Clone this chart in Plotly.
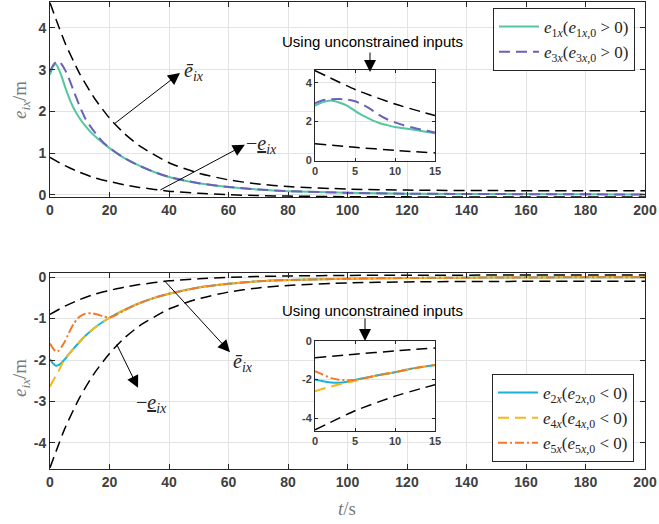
import plotly.graph_objects as go

# ---------------- data ----------------
# bounds (main plots)
t_bound = [0, 5, 10, 15, 20, 25, 30, 40, 50, 60, 70, 80, 100, 120, 150, 200]
top_upper = [4.6, 3.65, 2.9, 2.31, 1.84, 1.47, 1.18, 0.77, 0.52, 0.36, 0.26, 0.2, 0.14, 0.115, 0.103, 0.1]
top_lower = [0.9, 0.7, 0.54, 0.41, 0.32, 0.24, 0.18, 0.09, 0.04, 0.005, -0.016, -0.029, -0.042, -0.047, -0.049, -0.05]
bot_upper = [-0.9, -0.7, -0.54, -0.41, -0.32, -0.24, -0.18, -0.09, -0.04, -0.005, 0.016, 0.029, 0.042, 0.047, 0.049, 0.05]
bot_lower = [-4.6, -3.65, -2.9, -2.31, -1.84, -1.47, -1.18, -0.77, -0.52, -0.36, -0.26, -0.2, -0.14, -0.115, -0.103, -0.1]

# top main curves
t_e1 = [0, 1, 2, 3, 4, 5, 6, 7, 8, 10, 12, 14, 16, 18, 20, 25, 30, 35, 40, 50, 60, 70, 80, 100, 120, 150, 200]
e1x = [2.88, 3.08, 3.13, 3.0, 2.82, 2.6, 2.4, 2.22, 2.07, 1.83, 1.64, 1.48, 1.35, 1.23, 1.12, 0.88, 0.70, 0.55, 0.43, 0.28, 0.19, 0.13, 0.09, 0.05, 0.03, 0.02, 0.01]
t_e3 = [0, 1, 2, 3, 4, 5, 6, 7, 8, 9, 10, 11, 12, 14, 16, 18, 20, 25, 30, 35, 40, 50, 60, 70, 80, 100, 120, 150, 200]
e3x = [2.95, 3.1, 3.18, 3.2, 3.12, 3.0, 2.85, 2.67, 2.48, 2.3, 2.12, 1.96, 1.81, 1.6, 1.41, 1.25, 1.13, 0.88, 0.70, 0.55, 0.43, 0.28, 0.19, 0.13, 0.09, 0.05, 0.03, 0.02, 0.01]

# bottom main curves
t_e2 = [0, 1, 2, 3, 4, 5, 6, 8, 10, 12, 15, 20, 25, 30, 35, 40, 50, 60, 70, 80, 100, 120, 150, 200]
e2x = [-1.98, -2.08, -2.14, -2.12, -2.06, -1.98, -1.89, -1.72, -1.56, -1.41, -1.22, -0.98, -0.79, -0.63, -0.5, -0.4, -0.25, -0.16, -0.1, -0.07, -0.04, -0.02, -0.01, 0.0]
t_e4 = [0, 1, 2, 3, 4, 5, 6, 8, 10, 12, 15, 20, 25, 30, 35, 40, 50, 60, 70, 80, 100, 120, 150, 200]
e4x = [-2.64, -2.5, -2.38, -2.25, -2.1, -1.98, -1.89, -1.72, -1.56, -1.41, -1.22, -0.98, -0.79, -0.63, -0.5, -0.4, -0.25, -0.16, -0.1, -0.07, -0.04, -0.02, -0.01, 0.0]
t_e5 = [0, 1, 2, 3, 4, 5, 6, 7, 8, 9, 10, 12, 14, 16, 18, 20, 22, 25, 30, 35, 40, 50, 60, 70, 80, 100, 120, 150, 200]
e5x = [-1.6, -1.72, -1.8, -1.77, -1.67, -1.55, -1.4, -1.25, -1.12, -1.02, -0.95, -0.88, -0.87, -0.9, -0.95, -0.97, -0.92, -0.8, -0.63, -0.5, -0.4, -0.25, -0.16, -0.1, -0.07, -0.04, -0.02, -0.01, 0.0]

# top inset (unconstrained inputs)
t_in_b = [0, 5, 10, 15]
in_top_upper = [4.62, 3.65, 2.9, 2.31]
in_top_lower = [0.86, 0.68, 0.52, 0.39]
t_in1 = [0, 1, 2, 3, 4, 5, 6, 7, 8, 9, 10, 12, 14, 15]
in_e1x = [2.82, 3.0, 3.08, 2.98, 2.82, 2.55, 2.3, 2.1, 1.93, 1.82, 1.72, 1.6, 1.47, 1.4]
t_in3 = [0, 1, 2, 3, 4, 5, 6, 7, 8, 9, 10, 11, 12, 14, 15]
in_e3x = [2.94, 3.1, 3.14, 3.16, 3.13, 3.04, 2.87, 2.63, 2.34, 2.12, 1.96, 1.82, 1.71, 1.53, 1.44]

# bottom inset (unconstrained inputs)
in_bot_upper = [-0.87, -0.69, -0.52, -0.37]
in_bot_lower = [-4.61, -3.62, -2.86, -2.27]
t_in2 = [0, 1, 2, 3, 4, 5, 6, 7, 8, 10, 12, 14, 15]
in_e2x = [-2.0, -2.09, -2.15, -2.17, -2.12, -2.02, -1.93, -1.85, -1.77, -1.62, -1.44, -1.31, -1.25]
t_in4 = [0, 1, 2, 3, 4, 5, 6, 7, 8, 10, 12, 14, 15]
in_e4x = [-2.61, -2.48, -2.36, -2.26, -2.17, -2.07, -1.95, -1.85, -1.77, -1.62, -1.44, -1.31, -1.25]
t_in5 = [0, 1, 2, 3, 4, 5, 6, 7, 8, 10, 12, 14, 15]
in_e5x = [-1.57, -1.75, -1.93, -2.01, -2.04, -2.02, -1.95, -1.86, -1.77, -1.62, -1.44, -1.31, -1.25]

x_ticks = [0, 20, 40, 60, 80, 100, 120, 140, 160, 180, 200]
top_yticks = [0, 1, 2, 3, 4]
bot_yticks = [0, -1, -2, -3, -4]
in_xticks = [0, 5, 10, 15]
in_top_yticks = [0, 2, 4]
in_bot_yticks = [0, -2, -4]

# ---------------- styles ----------------
GREEN = "#52c7a0"
PURPLE = "#6a62b8"
CYAN = "#18b2d8"
YELLOW = "#f7b817"
ORANGE = "#f07a2a"
BOUND_DASH = "11px,6px"
LONG_DASH = "11px,6px"
DASHDOT = "9px,3px,2px,3px"
AX = "#262626"
GRID = "#e3e3e3"
TICKCOL = "#404040"
SERIF = "Liberation Serif, DejaVu Serif, serif"

fig = go.Figure()

def line(x, y, xa, ya, color, dash="solid", width=2, name=None, legend=None):
    fig.add_trace(go.Scatter(
        x=x, y=y, mode="lines", xaxis=xa, yaxis=ya,
        line=dict(color=color, width=width, dash=dash, shape="spline", smoothing=0.6),
        name=name, showlegend=name is not None,
        legend=legend if legend else "legend", hoverinfo="skip"))

# top main
line(t_bound, top_upper, "x", "y", "black", BOUND_DASH, 1.5)
line(t_bound, top_lower, "x", "y", "black", BOUND_DASH, 1.5)
line(t_e1, e1x, "x", "y", GREEN, "solid", 2,
     "<i>e</i><sub>1<i>x</i></sub>(<i>e</i><sub>1<i>x</i>,0</sub> > 0)", "legend")
line(t_e3, e3x, "x", "y", PURPLE, LONG_DASH, 2,
     "<i>e</i><sub>3<i>x</i></sub>(<i>e</i><sub>3<i>x</i>,0</sub> > 0)", "legend")

# bottom main
line(t_bound, bot_upper, "x2", "y2", "black", BOUND_DASH, 1.5)
line(t_bound, bot_lower, "x2", "y2", "black", BOUND_DASH, 1.5)
line(t_e2, e2x, "x2", "y2", CYAN, "solid", 2,
     "<i>e</i><sub>2<i>x</i></sub>(<i>e</i><sub>2<i>x</i>,0</sub> < 0)", "legend2")
line(t_e4, e4x, "x2", "y2", YELLOW, LONG_DASH, 2,
     "<i>e</i><sub>4<i>x</i></sub>(<i>e</i><sub>4<i>x</i>,0</sub> < 0)", "legend2")
line(t_e5, e5x, "x2", "y2", ORANGE, DASHDOT, 2,
     "<i>e</i><sub>5<i>x</i></sub>(<i>e</i><sub>5<i>x</i>,0</sub> < 0)", "legend2")

# top inset
line(t_in_b, in_top_upper, "x3", "y3", "black", BOUND_DASH, 1.5)
line(t_in_b, in_top_lower, "x3", "y3", "black", BOUND_DASH, 1.5)
line(t_in1, in_e1x, "x3", "y3", GREEN, "solid", 2)
line(t_in3, in_e3x, "x3", "y3", PURPLE, LONG_DASH, 2)

# bottom inset
line(t_in_b, in_bot_upper, "x4", "y4", "black", BOUND_DASH, 1.5)
line(t_in_b, in_bot_lower, "x4", "y4", "black", BOUND_DASH, 1.5)
line(t_in2, in_e2x, "x4", "y4", CYAN, "solid", 2)
line(t_in4, in_e4x, "x4", "y4", YELLOW, LONG_DASH, 2)
line(t_in5, in_e5x, "x4", "y4", ORANGE, DASHDOT, 2)

W, H = 659, 524
def px(xp): return xp / W
def py(yp): return 1 - yp / H

main_tick = dict(family="Liberation Sans, Arial, sans-serif", size=14, color=TICKCOL)
in_tick = dict(family="Liberation Sans, Arial, sans-serif", size=11, color=TICKCOL)

def axis(domain, rng, ticks, font, ticklen, anchor):
    return dict(domain=domain, range=rng, tickvals=ticks,
                ticktext=["<b>%s</b>" % v for v in ticks],
                tickfont=font, ticks="inside", ticklen=ticklen, tickcolor=AX, tickwidth=1,
                showline=True, linecolor=AX, linewidth=1, mirror="ticks",
                showgrid=True, gridcolor=GRID, gridwidth=1, zeroline=False,
                anchor=anchor, fixedrange=True, automargin=False)

xdom = [px(50), px(645)]
fig.update_layout(
    xaxis=axis(xdom, [0, 200], x_ticks, main_tick, 5, "y"),
    yaxis=axis([py(197), py(2)], [-0.05, 4.62], top_yticks, main_tick, 5, "x"),
    xaxis2=axis(xdom, [0, 200], x_ticks, main_tick, 5, "y2"),
    yaxis2=axis([py(469), py(273)], [-4.63, 0.1], bot_yticks, main_tick, 5, "x2"),
    xaxis3=axis([px(315), px(435)], [0, 15], in_xticks, in_tick, 3, "y3"),
    yaxis3=axis([py(160.5), py(70)], [0, 4.65], in_top_yticks, in_tick, 3, "x3"),
    xaxis4=axis([px(315), px(435)], [0, 15], in_xticks, in_tick, 3, "y4"),
    yaxis4=axis([py(430.7), py(340.5)], [-4.65, 0.02], in_bot_yticks, in_tick, 3, "x4"),
)

leg_font = dict(family=SERIF, size=17, color="#262626")
fig.update_layout(
    width=W, height=H, margin=dict(l=0, r=0, t=0, b=0, autoexpand=False),
    paper_bgcolor="white", plot_bgcolor="white",
    legend=dict(x=px(635), y=py(8), xanchor="right", yanchor="top",
                bgcolor="white", bordercolor=AX, borderwidth=1, font=leg_font,
                tracegroupgap=0, itemwidth=40),
    legend2=dict(x=px(634), y=py(462), xanchor="right", yanchor="bottom",
                 bgcolor="white", bordercolor=AX, borderwidth=1, font=leg_font,
                 tracegroupgap=0, itemwidth=40),
)

ann = []
lab_font = dict(family=SERIF, size=20, color="#262626")
title_font = dict(family=SERIF, size=19, color="#7a7a7a")
ylab = "<i>e</i><sub><i>ix</i></sub>/m"
ann.append(dict(text=ylab, x=px(21), y=py(100), xref="paper", yref="paper", textangle=-90,
                xanchor="center", yanchor="middle", showarrow=False, font=title_font))
ann.append(dict(text=ylab, x=px(21), y=py(378), xref="paper", yref="paper", textangle=-90,
                xanchor="center", yanchor="middle", showarrow=False, font=title_font))
ann.append(dict(text="<i>t</i>/s", x=px(347), y=py(508), xref="paper", yref="paper",
                xanchor="center", yanchor="middle", showarrow=False, font=title_font))

ARROW_SIZE = 2.4

def arrow(xh, yh, xt, yt, xr, yr):
    return dict(x=xh, y=yh, ax=xt, ay=yt, xref=xr, yref=yr, axref=xr, ayref=yr,
                text="", showarrow=True, arrowhead=2, arrowsize=ARROW_SIZE, arrowwidth=1,
                arrowcolor="black")

over = "<i>\u0113</i><sub><i>ix</i></sub>"
under = "\u2212<u><i>e</i></u><sub><i>ix</i></sub>"

# top panel annotations
ann.append(arrow(43.7, 2.92, 21.2, 1.68, "x", "y"))
ann.append(dict(text=over, x=44.5, y=2.95, xref="x", yref="y", xanchor="left", yanchor="middle",
                showarrow=False, font=lab_font))
ann.append(arrow(65.5, 1.2, 36.6, 0.1, "x", "y"))
ann.append(dict(text=under, x=65.3, y=1.2, xref="x", yref="y", xanchor="left", yanchor="middle",
                showarrow=False, font=lab_font))
# bottom panel annotations
ann.append(arrow(60.5, -1.81, 38.0, -0.05, "x2", "y2"))
ann.append(dict(text=over, x=60.8, y=-2.05, xref="x2", yref="y2", xanchor="left", yanchor="middle",
                showarrow=False, font=lab_font))
ann.append(arrow(29.6, -2.67, 22.2, -1.59, "x2", "y2"))
ann.append(dict(text=under, x=28.4, y=-3.05, xref="x2", yref="y2", xanchor="left", yanchor="middle",
                showarrow=False, font=lab_font))

# inset captions
cap_font = dict(family="Liberation Sans, Arial, sans-serif", size=15, color="black")
ann.append(dict(text="Using unconstrained inputs", x=px(372), y=py(42), xref="paper", yref="paper",
                xanchor="center", yanchor="middle", showarrow=False, font=cap_font))
ann.append(dict(x=px(370), y=py(72), xref="paper", yref="paper", ax=0, ay=-21, text="",
                showarrow=True, arrowhead=2, arrowsize=ARROW_SIZE, arrowwidth=1, arrowcolor="black"))
ann.append(dict(text="Using unconstrained inputs", x=px(372), y=py(310), xref="paper", yref="paper",
                xanchor="center", yanchor="middle", showarrow=False, font=cap_font))
ann.append(dict(x=px(365), y=py(341), xref="paper", yref="paper", ax=0, ay=-24, text="",
                showarrow=True, arrowhead=2, arrowsize=ARROW_SIZE, arrowwidth=1, arrowcolor="black"))

fig.update_layout(annotations=ann)
fig.write_html("out.html", config={"displayModeBar": False},
               post_script="document.body.style.margin='0';document.body.style.overflow='hidden';")
